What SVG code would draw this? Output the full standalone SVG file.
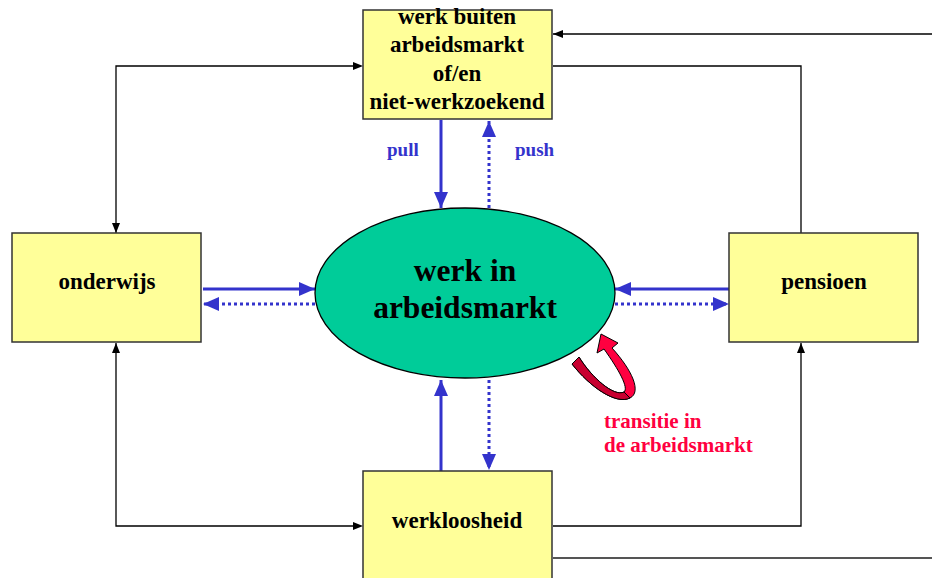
<svg xmlns="http://www.w3.org/2000/svg" width="932" height="578" viewBox="0 0 932 578">
<style>
.box{fill:#FFFF99;stroke:#333;stroke-width:1.5}
.bt{font-family:"Liberation Serif",serif;font-weight:bold;font-size:23px;fill:#000;text-anchor:middle}
.big{font-size:31.5px}
.k{fill:none;stroke:#000;stroke-width:1.3}
.g{fill:none;stroke:#555;stroke-width:2}
.bs{fill:none;stroke:#3333CC;stroke-width:3}
.bd{fill:none;stroke:#3333CC;stroke-width:3;stroke-dasharray:3 3}
.lbl{font-family:"Liberation Serif",serif;font-weight:bold;font-size:19px;fill:#3333CC}
.red{font-family:"Liberation Serif",serif;font-weight:bold;font-size:21px;fill:#FF0040}
</style>
<defs>
<marker id="ak" markerWidth="10" markerHeight="8" refX="10" refY="4" orient="auto" markerUnits="userSpaceOnUse"><path d="M0,0 L10,4 L0,8 Z" fill="#000"/></marker>
<marker id="ab" markerWidth="16" markerHeight="14" refX="16" refY="7" orient="auto" markerUnits="userSpaceOnUse"><path d="M0,0 L16,7 L0,14 Z" fill="#3333CC"/></marker>
</defs>
<g id="connectors">
<path class="k" d="M353,66 H116 V233" marker-end="url(#ak)"/>
<path d="M353,62 L363,66 L353,70 Z" fill="#000"/>
<path class="k" d="M353,526 H116 V343" marker-end="url(#ak)"/>
<path d="M353,522 L363,526 L353,530 Z" fill="#000"/>
<path class="k" d="M932,34 H553" marker-end="url(#ak)"/>
<path class="k" d="M553,66 H801 V233"/>
<path class="k" d="M553,526 H801 V343" marker-end="url(#ak)"/>
<path class="g" d="M553,558 H932"/>
<path class="bs" d="M441,120 V208" marker-end="url(#ab)"/>
<path class="bd" d="M489,208 V121" marker-end="url(#ab)"/>
<path class="bs" d="M203,289 H315" marker-end="url(#ab)"/>
<path class="bd" d="M315,304 H203" marker-end="url(#ab)"/>
<path class="bs" d="M729,289 H615" marker-end="url(#ab)"/>
<path class="bd" d="M615,304 H729" marker-end="url(#ab)"/>
<path class="bs" d="M441,471 V380" marker-end="url(#ab)"/>
<path class="bd" d="M489,380 V470" marker-end="url(#ab)"/>
<text class="lbl" x="387" y="156">pull</text>
<text class="lbl" x="515" y="156">push</text>
</g>
<g id="top">
<rect class="box" x="363" y="10" width="189" height="109"/>
<text class="bt" x="457" y="24">werk buiten</text>
<text class="bt" x="457" y="52">arbeidsmarkt</text>
<text class="bt" x="457" y="81">of/en</text>
<text class="bt" x="457" y="109">niet-werkzoekend</text>
</g>
<g id="onderwijs">
<rect class="box" x="12" y="233" width="189" height="109"/>
<text class="bt" x="107" y="289">onderwijs</text>
</g>
<g id="pensioen">
<rect class="box" x="729" y="233" width="189" height="109"/>
<text class="bt" x="824" y="289">pensioen</text>
</g>
<g id="werkloosheid">
<rect class="box" x="363" y="471" width="189" height="120"/>
<text class="bt" x="457" y="528">werkloosheid</text>
</g>
<g id="center">
<ellipse cx="465" cy="293" rx="150" ry="85" fill="#00CC99" stroke="#000" stroke-width="1.3"/>
<text class="bt big" x="465" y="281">werk in</text>
<text class="bt big" x="465" y="318">arbeidsmarkt</text>
</g>
<g id="transitie">
<path d="M572,364 C590,387 616,405 630,398 C642,392 632,370 612,348 L618,343 L601,334 L597,353 L604,349 C619,370 629,388 624,392 C614,397 592,378 579,357 Z" fill="#FF0040" stroke="#000" stroke-width="1"/>
<path d="M572,364 C590,387 616,405 630,398 L624,392 C614,397 592,378 579,357 Z" fill="#C80030" stroke="#000" stroke-width="1"/>
<text class="red" x="604" y="428">transitie in</text>
<text class="red" x="604" y="452">de arbeidsmarkt</text>
</g>
</svg>
